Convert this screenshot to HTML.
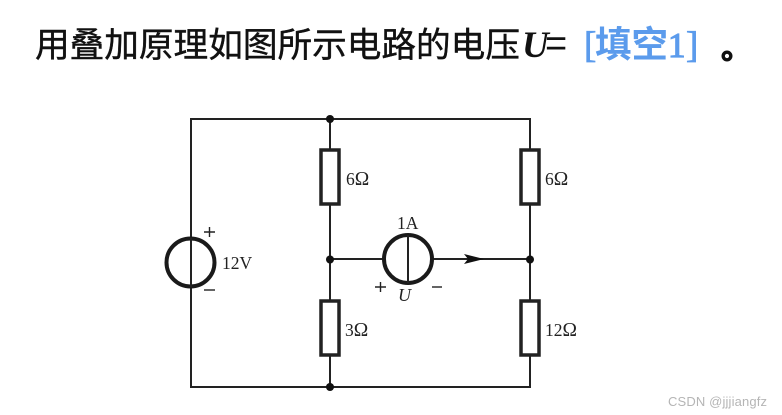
<!DOCTYPE html>
<html><head><meta charset="utf-8"><style>
html,body{margin:0;padding:0;background:#fff;width:782px;height:415px;overflow:hidden}
svg{display:block}
.s{font-family:"Liberation Serif","Noto Serif CJK SC",serif;fill:#222}
.c{font-family:"Liberation Sans","Noto Sans CJK SC",sans-serif}
.o{font-size:19.500px}
</style></head><body>
<svg width="782" height="415" viewBox="0 0 782 415" xmlns="http://www.w3.org/2000/svg">
<text class="c" x="35" y="57" font-size="34.650" fill="#111" stroke="#111" stroke-width="0.400">用叠加原理如图所示电路的电压</text>
<text x="522" y="57" font-family="Liberation Serif" font-size="37" font-weight="bold" font-style="italic" fill="#111">U</text>
<text x="545" y="56" font-family="Liberation Sans" font-size="38" fill="#111">=</text>
<text x="584" y="57" font-family="Liberation Serif" font-size="37" fill="#5b9bec" stroke="#5b9bec" stroke-width="0.800">[</text>
<text class="c" x="595" y="57" font-size="36.500" font-weight="bold" fill="#5b9bec">填空</text>
<text x="668" y="57" font-family="Liberation Serif" font-size="35" fill="#5b9bec" stroke="#5b9bec" stroke-width="1.200">1</text>
<text x="686" y="57" font-family="Liberation Serif" font-size="37" fill="#5b9bec" stroke="#5b9bec" stroke-width="0.800">]</text>
<circle cx="727" cy="56" r="3.800" fill="none" stroke="#111" stroke-width="3.400"/>

<g fill="none" stroke="#222" stroke-width="2">
<path d="M330 119H191V387H530V119H330"/>
<path d="M330 119V150M330 205V301M330 356V387"/>
<path d="M530 119V150M530 204V301M530 356V387"/>
<path d="M330 259H384M432 259H530"/>
</g>
<g fill="#fff" stroke="#222" stroke-width="3.500">
<rect x="321" y="150" width="18" height="54"/>
<rect x="521" y="150" width="18" height="54"/>
<rect x="321" y="301" width="18" height="54"/>
<rect x="521" y="301" width="18" height="54"/>
</g>
<g fill="none" stroke="#1a1a1a" stroke-width="4">
<circle cx="190.500" cy="262.500" r="24"/>
<circle cx="408" cy="259" r="24"/>
</g>
<path d="M191 238V287M408 235V283" stroke="#222" stroke-width="2" fill="none"/>
<g fill="#111">
<circle cx="330" cy="119" r="4"/>
<circle cx="330" cy="259.500" r="4"/>
<circle cx="330" cy="387" r="4"/>
<circle cx="530" cy="259.500" r="4"/>
<path d="M464 254L484 259L464 264L468 259Z"/>
</g>
<g stroke="#222" stroke-width="1.400" fill="none">
<path d="M204 232H215M209.500 227V237"/>
<path d="M204 290H215"/>
<path d="M375 287H386M380.500 282V292"/>
<path d="M432 287H442"/>
</g>
<g class="s" font-size="17.500">
<text x="346" y="185">6<tspan class="o">Ω</tspan></text>
<text x="545" y="185">6<tspan class="o">Ω</tspan></text>
<text x="345" y="336">3<tspan class="o">Ω</tspan></text>
<text x="545" y="336">12<tspan class="o">Ω</tspan></text>
<text x="222" y="269">12V</text>
<text x="397" y="229">1A</text>
<text x="398" y="301" font-style="italic" font-size="18">U</text>
</g>
<text x="668" y="406" font-family="Liberation Sans" font-size="13" fill="#b5b5b5" textLength="99">CSDN @jjjiangfz</text>
</svg>
</body></html>
